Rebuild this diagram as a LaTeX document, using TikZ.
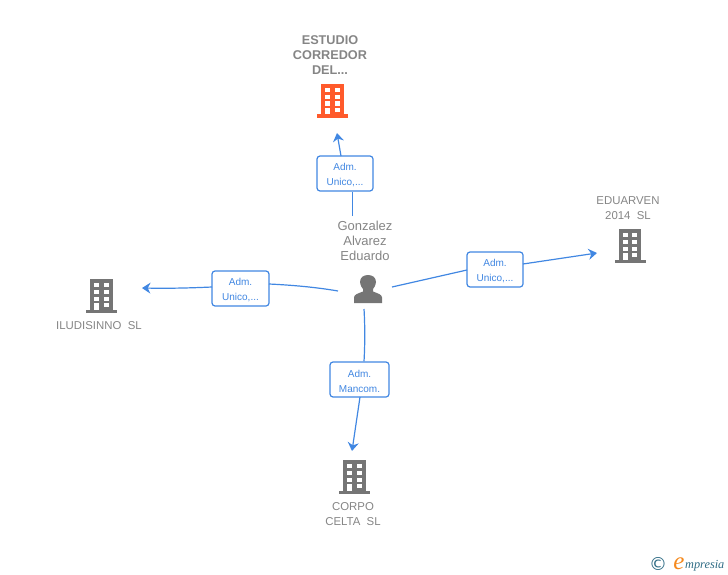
\documentclass[tikz,border=0pt]{standalone}
\usepackage{fontspec}
\setmainfont{Liberation Sans}
\newfontfamily\logofont{DejaVu Sans}
\newfontfamily\logoserif{Liberation Serif}
\definecolor{linkblue}{HTML}{4187E2}
\definecolor{grayicon}{HTML}{757575}
\definecolor{graytext}{HTML}{858585}
\definecolor{orangeicon}{HTML}{FF5A2B}
\definecolor{logoteal}{HTML}{2F6C85}
\definecolor{logoorange}{HTML}{F58A1F}
\usetikzlibrary{arrows.meta}
\newcommand{\firstline}{\rule{0pt}{11pt}}
\tikzset{
  x=1pt,y=-1pt,
  link/.style={draw=linkblue,line width=1.2pt},
  linkarrow/.style={link,-{Stealth[length=8.5pt,width=11pt,inset=2.8pt]}},
  rolebox/.style={draw=linkblue,line width=1.2pt,rounded corners=3pt,fill=white,minimum height=35pt,align=center,inner sep=0pt,text=linkblue,font=\fontsize{10}{15}\selectfont},
  nametext/.style={align=center,text=graytext,inner sep=0pt,font=\fontsize{13}{15}\selectfont},
  boldname/.style={nametext,font=\fontsize{12.7}{15}\selectfont\bfseries},
  smallname/.style={nametext,font=\fontsize{11.4}{15}\selectfont},
  pics/tower/.style={code={
    \fill[#1] (-11.3,-17) rectangle (11.3,14);
    \fill[#1] (-15.5,13.5) rectangle (15.5,17);
    \foreach \cx in {-4.7,4.7}{\foreach \cy in {-11,-3.8,2.7}{\fill[white] (\cx-2.5,\cy-2.2) rectangle (\cx+2.5,\cy+2.2);}}
    \fill[white] (-7.2,6.7) rectangle (-2.2,13.5);
    \fill[white] (2.2,6.7) rectangle (7.2,10.7);
  }},
}
\begin{document}
\begin{tikzpicture}
\useasboundingbox (0,0) rectangle (728,575);
% buildings
\coordinate (estudio) at (332.5,101);
\coordinate (eduarven) at (630,246);
\coordinate (iludisinno) at (101.3,296);
\coordinate (corpo) at (354.5,477);
\pic at (estudio) {tower=orangeicon};
\pic at (eduarven) {tower=grayicon};
\pic at (iludisinno) {tower=grayicon};
\pic at (corpo) {tower=grayicon};
% names
\node[boldname] (n1) at (330,55) {ESTUDIO\\CORREDOR\\DEL...};
\node[smallname] (n2) at (628,208.5) {EDUARVEN\\2014\ \ SL};
\node[smallname] (n3) at (99,326) {ILUDISINNO\ \ SL};
\node[smallname] (n4) at (353,514.5) {CORPO\\CELTA\ \ SL};
\node[nametext] (n5) at (365,241) {Gonzalez\\Alvarez\\Eduardo};
% person
\coordinate (person) at (368,289);
\fill[grayicon] (354,303) -- (354,297.5) .. controls (354,294.5) and (358,293.5) .. (363,291.5) -- (363,289) .. controls (360.5,286) and (360,283) .. (360,282) .. controls (360,277.5) and (363.5,275) .. (368,275) .. controls (372.5,275) and (376,277.5) .. (376,282) .. controls (376,283) and (375.5,286) .. (373,289) -- (373,291.5) .. controls (378,293.5) and (382,294.5) .. (382,297.5) -- (382,303) -- cycle;
% role boxes
\node[rolebox,minimum width=56pt] (b1) at (345,173.5) {\firstline Adm.\\Unico,...};
\node[rolebox,minimum width=56pt] (b2) at (495,269.5) {\firstline Adm.\\Unico,...};
\node[rolebox,minimum width=57pt] (b3) at (240.5,288.5) {\firstline Adm.\\Unico,...};
\node[rolebox,minimum width=59pt] (b4) at (359.5,379.5) {\firstline Adm.\\Mancom.};
% free ends
\coordinate (s1) at (352.4,216);
\coordinate (e1) at (337,133);
\coordinate (s2) at (392,287);
\coordinate (e2) at (597,253);
\coordinate (s3) at (338,291);
\coordinate (e3) at (142,288);
\coordinate (s4) at (364,309);
\coordinate (e4) at (352,451);
% connectors
\draw[link] (s1) -- (b1.south -| s1);
\coordinate (x1) at (341,156);
\draw[linkarrow] (x1) -- (e1);
\coordinate (y2a) at (467,270);
\coordinate (y2b) at (523,264);
\draw[link] (s2) -- (y2a);
\draw[linkarrow] (y2b) -- (e2);
\coordinate (y3a) at (269,284);
\coordinate (y3b) at (212,287);
\draw[link] (s3) .. controls (315,287) and (290,285) .. (y3a);
\draw[linkarrow] (y3b) .. controls (190,288) and (170,288.5) .. (e3);
\draw[link] (s4) .. controls (365,325) and (365,345) .. (b4.north -| s4);
\coordinate (x4) at (360,397);
\draw[linkarrow] (x4) -- (e4);
% logo
\node[inner sep=0pt,text=logoteal,font=\logofont\fontsize{18}{18}\selectfont] (copy) at (658,564) {©};
\node[inner sep=0pt,text=logoorange,font=\logoserif\itshape\fontsize{25}{25}\selectfont] (logoe) at (679,564) {e};
\node[inner sep=0pt,anchor=base west,text=logoteal,font=\logoserif\itshape\fontsize{12.3}{14}\selectfont] (logot) at (685,568) {mpresia};
\end{tikzpicture}
\end{document}
